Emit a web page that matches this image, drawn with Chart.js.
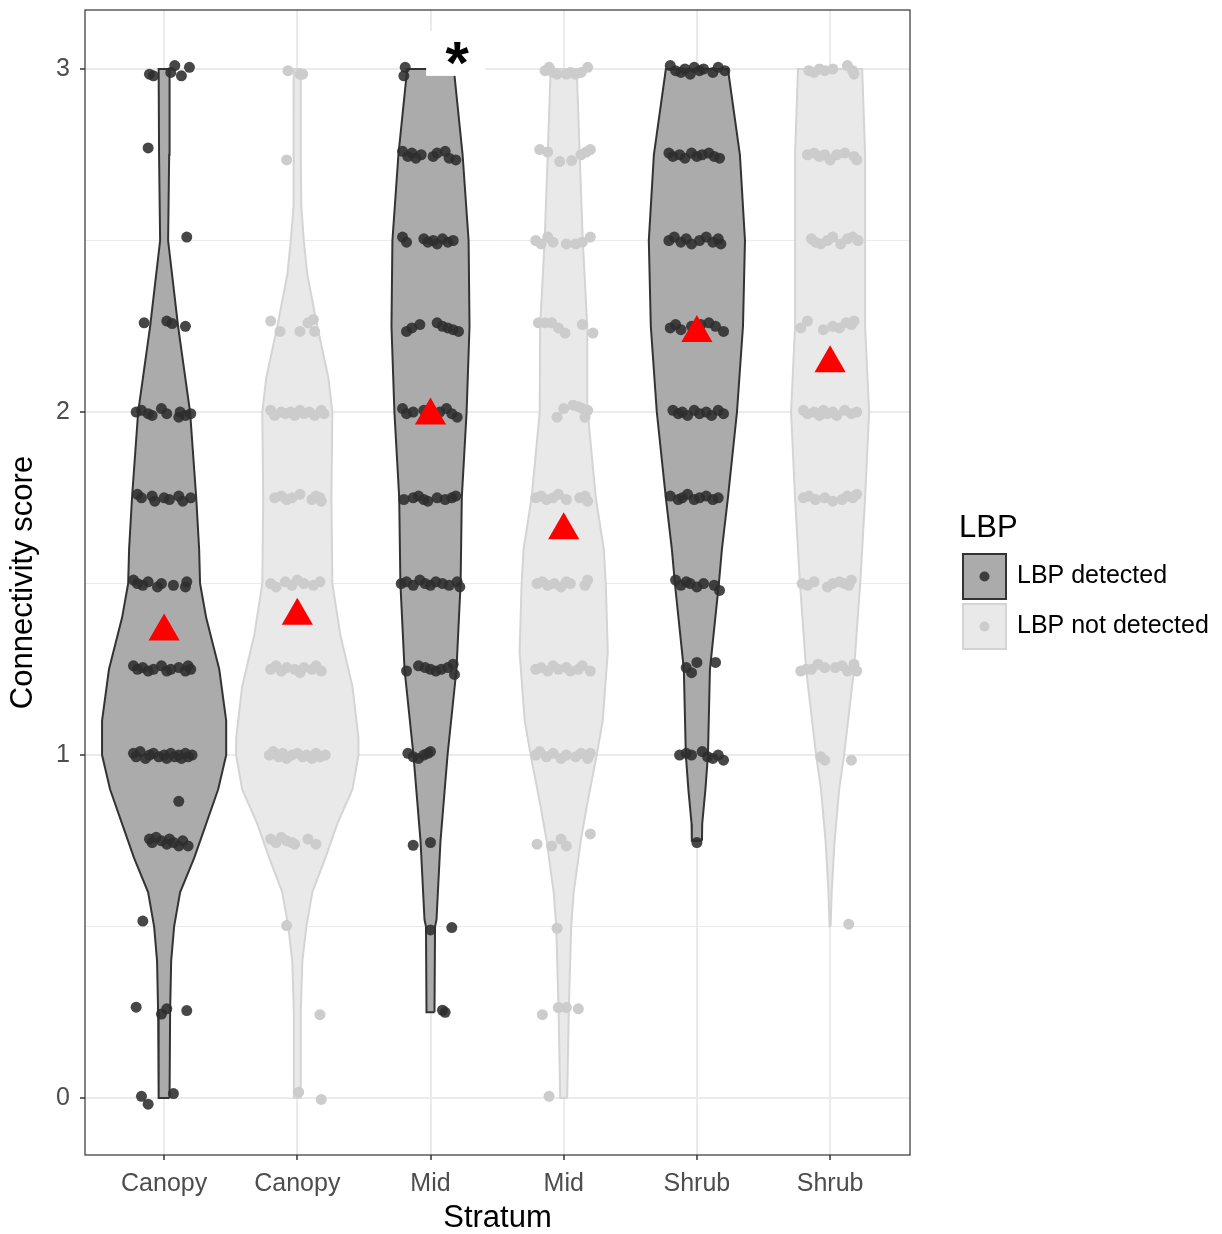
<!doctype html>
<html lang="en">
<head>
<meta charset="utf-8">
<title>Connectivity score by stratum</title>
<style>
  body { margin: 0; background: #fff; }
  #wrap { width: 1222px; height: 1234px; }
</style>
</head>
<body>
<div id="wrap"><canvas id="chart" width="1222" height="1234"></canvas></div>
<script src="https://cdn.jsdelivr.net/npm/chart.js"></script>
<script>
// categories on the x axis (1..6)
const categories = ['Canopy', 'Canopy', 'Mid', 'Mid', 'Shrub', 'Shrub'];
const detected = [true, false, true, false, true, false];
const yTicks = [0, 0.5, 1, 1.5, 2, 2.5, 3];

// violin outlines: [score, half width in category units]
const violinCanopyDet = [[0,0.041],[0.25,0.045],[0.4,0.053],[0.5,0.075],[0.6,0.12],[0.7,0.226],[0.8,0.316],[0.9,0.406],[1.0,0.466],[1.1,0.466],[1.25,0.414],[1.4,0.316],[1.5,0.27],[1.6,0.263],[1.75,0.241],[2.0,0.195],[2.25,0.105],[2.4,0.06],[2.5,0.03],[2.75,0.038],[3.0,0.041]];
const violinCanopyNot = [[0,0.026],[0.25,0.026],[0.4,0.038],[0.5,0.068],[0.6,0.113],[0.7,0.211],[0.8,0.301],[0.9,0.414],[1.0,0.459],[1.05,0.459],[1.2,0.414],[1.35,0.323],[1.5,0.263],[1.75,0.256],[2.0,0.263],[2.1,0.233],[2.25,0.15],[2.4,0.075],[2.5,0.049],[2.6,0.03],[2.75,0.026],[3.0,0.026]];
const violinMidDet = [[0.25,0.03],[0.5,0.034],[0.52,0.045],[0.75,0.075],[1.0,0.128],[1.25,0.195],[1.5,0.226],[1.75,0.235],[2.0,0.271],[2.25,0.293],[2.5,0.286],[2.75,0.241],[3.0,0.175]];
const violinMidNot = [[0,0.026],[0.25,0.038],[0.5,0.056],[0.6,0.075],[0.75,0.128],[0.85,0.173],[1.0,0.248],[1.1,0.293],[1.3,0.331],[1.5,0.316],[1.6,0.301],[1.75,0.241],[2.0,0.18],[2.25,0.177],[2.5,0.143],[2.75,0.12],[3.0,0.098]];
const violinShrubDet = [[0.75,0.038],[0.8,0.04],[0.9,0.064],[1.0,0.083],[1.25,0.098],[1.5,0.165],[1.6,0.188],[1.75,0.233],[2.0,0.301],[2.25,0.346],[2.5,0.361],[2.75,0.323],[3.0,0.233]];
const violinShrubNot = [[0.5,0.004],[0.6,0.012],[0.75,0.034],[0.9,0.068],[1.0,0.105],[1.25,0.18],[1.5,0.226],[1.6,0.241],[1.75,0.263],[2.0,0.293],[2.25,0.263],[2.5,0.263],[2.75,0.263],[3.0,0.241]];

// jittered observations: [x offset from category, score]
const ptsCanopyDet = [
  [-.11,2.985],[-.08,2.98],[.05,2.99],[.08,3.01],[.13,2.98],[.19,3.005],
  [-.12,2.77],[.17,2.51],
  [-.15,2.26],[.02,2.265],[.06,2.258],[.16,2.25],
  [-.21,2.0],[-.17,2.005],[-.12,1.995],[-.09,1.99],[-.02,2.01],[.02,1.995],[.12,2.0],[.11,1.985],[.16,1.99],[.2,1.995],
  [-.2,1.76],[-.17,1.75],[-.09,1.755],[-.07,1.74],[0,1.75],[.04,1.745],[.11,1.755],[.14,1.74],[.2,1.75],
  [-.23,1.51],[-.2,1.5],[-.16,1.495],[-.12,1.505],[-.05,1.49],[-.02,1.5],[.07,1.495],[.16,1.49],[.17,1.505],
  [-.23,1.26],[-.2,1.25],[-.16,1.255],[-.12,1.245],[-.08,1.25],[-.02,1.26],[.02,1.245],[.05,1.25],[.11,1.255],[.16,1.245],[.18,1.26],[.2,1.25],
  [-.23,1.005],[-.21,0.995],[-.18,1.01],[-.14,0.99],[-.11,1.0],[-.08,1.005],[-.04,0.995],[0,1.0],[.02,0.99],[.05,1.005],[.08,0.995],[.11,1.0],[.13,0.99],[.16,1.005],[.18,0.995],[.21,1.0],
  [.11,0.865],
  [-.11,0.755],[-.09,0.745],[-.06,0.76],[-.02,0.75],[.02,0.74],[.04,0.755],[.07,0.745],[.11,0.735],[.14,0.75],[.18,0.735],
  [-.16,0.516],
  [-.21,0.265],[-.02,0.245],[.02,0.26],[.17,0.255],
  [-.17,0.005],[-.12,-0.018],[.07,0.013]
];
const ptsCanopyNot = [
  [-.07,2.995],[.02,2.985],[.04,2.985],[-.08,2.735],
  [-.2,2.265],[-.13,2.235],[.02,2.235],[.08,2.26],[.12,2.27],[.13,2.235],
  [-.2,2.005],[-.17,1.99],[-.12,2.0],[-.09,1.995],[-.05,2.0],[-.02,1.99],[.02,2.005],[.05,1.995],[.09,2.0],[.13,1.99],[.18,2.005],[.2,1.995],
  [-.17,1.75],[-.12,1.755],[-.08,1.745],[-.04,1.75],[.02,1.76],[.11,1.745],[.14,1.755],[.17,1.75],[.18,1.74],
  [-.2,1.5],[-.16,1.49],[-.09,1.505],[-.04,1.495],[0,1.51],[.05,1.5],[.12,1.495],[.17,1.505],
  [-.2,1.25],[-.16,1.26],[-.12,1.245],[-.08,1.255],[-.02,1.25],[.02,1.24],[.05,1.255],[.11,1.25],[.14,1.26],[.18,1.245],
  [-.21,1.0],[-.18,1.01],[-.14,0.995],[-.11,1.005],[-.08,0.99],[-.04,1.0],[0,1.005],[.04,0.995],[.07,1.0],[.11,0.99],[.14,1.005],[.17,0.995],[.21,1.0],
  [-.2,0.755],[-.16,0.745],[-.12,0.76],[-.08,0.75],[-.04,0.745],[-.02,0.74],[.08,0.755],[.14,0.74],
  [-.08,0.503],[.17,0.243],[.01,0.017],[.18,-0.004]
];
const ptsMidDet = [
  [-.19,3.005],[-.2,2.98],
  [-.21,2.76],[-.17,2.745],[-.14,2.755],[-.11,2.74],[-.07,2.75],[.02,2.745],[.05,2.755],[.11,2.76],[.14,2.74],[.19,2.735],
  [-.21,2.51],[-.18,2.495],[-.05,2.505],[-.02,2.495],[.02,2.5],[.05,2.49],[.09,2.505],[.13,2.495],[.17,2.5],
  [-.18,2.235],[-.14,2.245],[-.08,2.255],[.05,2.26],[.09,2.25],[.13,2.245],[.17,2.24],[.21,2.235],
  [-.21,2.01],[-.18,1.995],[-.13,2.0],[-.05,2.005],[.01,1.99],[.07,2.0],[.12,2.01],[.16,1.995],[.2,1.985],
  [-.2,1.745],[-.13,1.75],[-.09,1.755],[-.05,1.745],[-.02,1.74],[.05,1.75],[.11,1.745],[.16,1.75],[.19,1.755],
  [-.22,1.5],[-.18,1.505],[-.13,1.495],[-.08,1.51],[-.04,1.5],[0,1.495],[.04,1.505],[.09,1.5],[.14,1.495],[.2,1.505],[.22,1.49],
  [-.18,1.245],[-.09,1.26],[-.04,1.255],[0,1.25],[.04,1.245],[.08,1.25],[.13,1.255],[.17,1.265],[.18,1.235],
  [-.17,1.005],[-.13,0.995],[-.09,0.99],[-.05,1.0],[-.02,1.005],[0,1.01],
  [-.13,0.737],[0,0.745],
  [.16,0.497],[0,0.49],
  [.09,0.256],[.11,0.25]
];
const ptsMidNot = [
  [-.14,2.995],[-.11,3.005],[-.08,2.99],[-.05,2.985],[.02,2.985],[.05,2.99],[.09,2.985],[.13,2.99],[.18,3.005],
  [-.18,2.765],[-.12,2.758],[-.03,2.73],[.06,2.733],[.13,2.75],[.17,2.758],[.2,2.765],
  [-.21,2.5],[-.17,2.49],[-.12,2.51],[-.08,2.495],[.02,2.49],[.09,2.49],[.14,2.495],[.2,2.51],
  [-.19,2.26],[-.14,2.26],[-.09,2.26],[-.04,2.245],[.01,2.23],[.14,2.255],[.22,2.23],
  [-.05,1.985],[0,2.01],[.07,2.02],[.11,2.015],[.14,2.01],[.18,2.005],[.16,1.985],
  [-.21,1.75],[-.17,1.755],[-.13,1.745],[-.08,1.75],[-.04,1.76],[.02,1.745],[.12,1.75],[.16,1.755],[.18,1.74],
  [-.2,1.5],[-.16,1.505],[-.12,1.495],[-.07,1.5],[-.02,1.49],[.02,1.505],[.05,1.5],[.16,1.495],[.18,1.51],
  [-.21,1.25],[-.17,1.255],[-.12,1.245],[-.08,1.26],[-.04,1.25],[.02,1.255],[.05,1.245],[.11,1.25],[.14,1.26],[.2,1.245],
  [-.21,1.0],[-.18,1.01],[-.13,0.995],[-.08,1.005],[-.02,0.99],[.02,1.0],[.09,0.995],[.13,1.005],[.18,0.99],[.2,1.005],
  [-.2,0.74],[-.09,0.735],[-.02,0.755],[.02,0.735],[.2,0.77],
  [-.05,0.495],
  [-.16,0.243],[-.04,0.264],[.02,0.264],[.11,0.26],
  [-.11,0.005]
];
const ptsShrubDet = [
  [-.2,3.01],[-.16,2.995],[-.12,2.99],[-.09,3.0],[-.05,2.985],[-.02,3.005],[.02,2.995],[.05,3.0],[.12,2.99],[.16,3.005],[.21,2.995],
  [-.21,2.755],[-.18,2.745],[-.13,2.75],[-.09,2.74],[-.04,2.755],[0,2.745],[.04,2.75],[.09,2.755],[.13,2.745],[.17,2.74],
  [-.21,2.5],[-.17,2.51],[-.12,2.495],[-.08,2.505],[-.04,2.49],[.02,2.5],[.07,2.51],[.12,2.495],[.16,2.505],[.18,2.49],
  [-.2,2.245],[-.16,2.255],[-.12,2.24],[-.04,2.25],[.03,2.255],[.09,2.26],[.14,2.25],[.2,2.235],
  [-.18,2.005],[-.14,1.995],[-.11,2.0],[-.07,1.99],[-.02,2.005],[.02,1.995],[.07,2.0],[.11,1.99],[.16,2.005],[.2,1.995],
  [-.2,1.755],[-.14,1.745],[-.11,1.75],[-.07,1.76],[-.02,1.745],[.02,1.75],[.07,1.755],[.12,1.745],[.16,1.75],
  [-.16,1.51],[-.12,1.495],[-.08,1.505],[-.05,1.5],[0,1.49],[.05,1.5],[.13,1.495],[.17,1.48],
  [-.08,1.255],[-.04,1.24],[0,1.27],[.14,1.27],
  [-.13,1.0],[-.08,1.005],[-.04,1.0],[.04,1.01],[.08,0.995],[.12,0.99],[.16,1.0],[.2,0.985],
  [0,0.745]
];
const ptsShrubNot = [
  [-.16,2.995],[-.12,2.99],[-.08,3.0],[-.04,2.995],[.02,3.0],[.13,3.01],[.17,2.995],[.18,2.985],
  [-.17,2.75],[-.12,2.755],[-.08,2.745],[-.04,2.75],[0,2.735],[.05,2.75],[.11,2.755],[.18,2.745],[.2,2.735],
  [-.14,2.505],[-.11,2.495],[-.07,2.49],[-.02,2.5],[.02,2.51],[.08,2.49],[.13,2.505],[.17,2.51],[.21,2.5],
  [-.22,2.245],[-.17,2.265],[-.05,2.24],[.02,2.25],[.07,2.245],[.12,2.26],[.16,2.255],[.18,2.265],
  [-.2,2.005],[-.17,1.995],[-.12,2.0],[-.08,1.99],[-.05,2.005],[-.02,1.995],[.02,2.0],[.05,1.99],[.11,2.005],[.16,1.995],[.2,2.0],
  [-.2,1.75],[-.16,1.755],[-.11,1.745],[-.04,1.75],[.02,1.74],[.09,1.745],[.13,1.755],[.17,1.75],[.2,1.76],
  [-.21,1.5],[-.17,1.495],[-.12,1.505],[-.02,1.49],[.02,1.5],[.07,1.505],[.11,1.5],[.14,1.495],[.16,1.51],
  [-.22,1.245],[-.18,1.25],[-.14,1.25],[-.09,1.265],[-.04,1.255],[.04,1.255],[.09,1.26],[.13,1.245],[.18,1.265],[.2,1.245],
  [-.07,0.995],[-.04,0.985],[.16,0.985],
  [.14,0.507]
];

// group means (red triangles)
const means = [1.36, 1.406, 1.99, 1.655, 2.23, 2.142];

const violins = [violinCanopyDet, violinCanopyNot, violinMidDet, violinMidNot, violinShrubDet, violinShrubNot];
const points = [ptsCanopyDet, ptsCanopyNot, ptsMidDet, ptsMidNot, ptsShrubDet, ptsShrubNot];

const FONT = "'Liberation Sans', Arial, sans-serif";
const darkFill = '#ababab', darkLine = '#333333', darkPt = 'rgba(45,45,45,0.88)';
const lightFill = '#e9e9e9', lightLine = '#d4d4d4', lightPt = '#cccccc';

function outline(center, prof) {
  const right = prof.map(p => ({x: center + p[1], y: p[0]}));
  const left = prof.map(p => ({x: center - p[1], y: p[0]})).reverse();
  return right.concat(left, [right[0]]);
}

const datasets = [];
violins.forEach((prof, i) => {
  datasets.push({
    data: outline(i + 1, prof),
    showLine: true,
    fill: 'shape',
    backgroundColor: detected[i] ? darkFill : lightFill,
    borderColor: detected[i] ? darkLine : lightLine,
    borderWidth: 2,
    pointRadius: 0,
    tension: 0,
    order: 3
  });
});
points.forEach((pts, i) => {
  datasets.push({
    data: pts.map(p => ({x: i + 1 + p[0], y: p[1]})),
    pointRadius: 5.5,
    pointBackgroundColor: detected[i] ? darkPt : lightPt,
    pointBorderWidth: 0,
    order: 2
  });
});
datasets.push({
  data: means.map((m, i) => ({x: i + 1, y: m})),
  pointStyle: 'triangle',
  pointRadius: 18,
  pointBackgroundColor: '#ff0000',
  pointBorderWidth: 0,
  order: 1
});

// panel border, "*" label and legend
const extras = {
  id: 'extras',
  afterDatasetsDraw(chart) {
    const {ctx, chartArea: a, scales: {x, y}} = chart;
    ctx.save();
    // asterisk label with white background
    const cx = x.getPixelForValue(3.2), cy = y.getPixelForValue(3.047);
    ctx.fillStyle = '#fff';
    ctx.fillRect(cx - 31, cy - 22, 59, 45);
    ctx.fillStyle = '#000';
    ctx.font = 'bold 60px ' + FONT;
    ctx.textAlign = 'center';
    ctx.textBaseline = 'alphabetic';
    ctx.fillText('*', cx, cy + 30);
    // panel border
    ctx.strokeStyle = '#333';
    ctx.lineWidth = 1.2;
    ctx.strokeRect(a.left, a.top, a.right - a.left, a.bottom - a.top);
    ctx.restore();
  },
  afterDraw(chart) {
    const ctx = chart.ctx;
    const lx = 962, ly = 553, kw = 45, kh = 47;
    ctx.save();
    ctx.fillStyle = '#000';
    ctx.font = '31px ' + FONT;
    ctx.textAlign = 'left';
    ctx.textBaseline = 'middle';
    ctx.fillText('LBP', 959, 528);
    const keys = [
      {label: 'LBP detected', fill: darkFill, line: darkLine, pt: darkPt},
      {label: 'LBP not detected', fill: lightFill, line: lightLine, pt: lightPt}
    ];
    keys.forEach((k, i) => {
      const top = ly + i * (kh + 3);
      ctx.fillStyle = k.fill;
      ctx.strokeStyle = k.line;
      ctx.lineWidth = 2;
      ctx.fillRect(lx, top, kw, kh);
      ctx.strokeRect(lx + 1, top + 1, kw - 2, kh - 2);
      ctx.fillStyle = k.pt;
      ctx.beginPath();
      ctx.arc(lx + kw / 2, top + kh / 2, 5, 0, Math.PI * 2);
      ctx.fill();
      ctx.fillStyle = '#000';
      ctx.font = '25px ' + FONT;
      ctx.fillText(k.label, 1017, top + kh / 2);
    });
    ctx.restore();
  }
};

new Chart(document.getElementById('chart'), {
  type: 'scatter',
  data: {datasets: datasets},
  plugins: [extras],
  options: {
    responsive: false,
    animation: false,
    events: [],
    layout: {autoPadding: false, padding: {top: 10, right: 312, left: 0, bottom: 0}},
    plugins: {legend: {display: false}, tooltip: {enabled: false}},
    scales: {
      x: {
        type: 'linear',
        min: 0.406,
        max: 6.6,
        afterBuildTicks: s => { s.ticks = categories.map((c, i) => ({value: i + 1})); },
        afterFit: s => { s.height = 79; s.paddingLeft = 0; s.paddingRight = 0; },
        ticks: {
          autoSkip: false,
          maxRotation: 0,
          padding: 9,
          color: '#4d4d4d',
          font: {family: FONT, size: 25},
          callback: v => categories[v - 1]
        },
        grid: {color: '#ebebeb', lineWidth: 2, tickLength: 5, tickColor: '#333', tickWidth: 1.5},
        border: {display: false},
        title: {display: true, text: 'Stratum', color: '#000', padding: 0, font: {family: FONT, size: 31, lineHeight: 1}}
      },
      y: {
        type: 'linear',
        min: -0.166,
        max: 3.172,
        afterBuildTicks: s => { s.ticks = yTicks.map(v => ({value: v})); },
        afterFit: s => { s.width = 85; s.paddingTop = 0; s.paddingBottom = 0; },
        ticks: {
          autoSkip: false,
          padding: 10,
          color: '#4d4d4d',
          font: {family: FONT, size: 25},
          callback: v => Number.isInteger(v) ? String(v) : ''
        },
        grid: {
          color: '#ebebeb',
          lineWidth: c => (c.tick && Number.isInteger(c.tick.value)) ? 2 : 1,
          tickLength: 5,
          tickWidth: 1.5,
          tickColor: c => (c.tick && Number.isInteger(c.tick.value)) ? '#333' : 'rgba(0,0,0,0)'
        },
        border: {display: false},
        title: {display: true, text: 'Connectivity score', color: '#000', padding: {top: 8, bottom: 0}, font: {family: FONT, size: 31, lineHeight: 1}}
      }
    }
  }
});
</script>
</body>
</html>
